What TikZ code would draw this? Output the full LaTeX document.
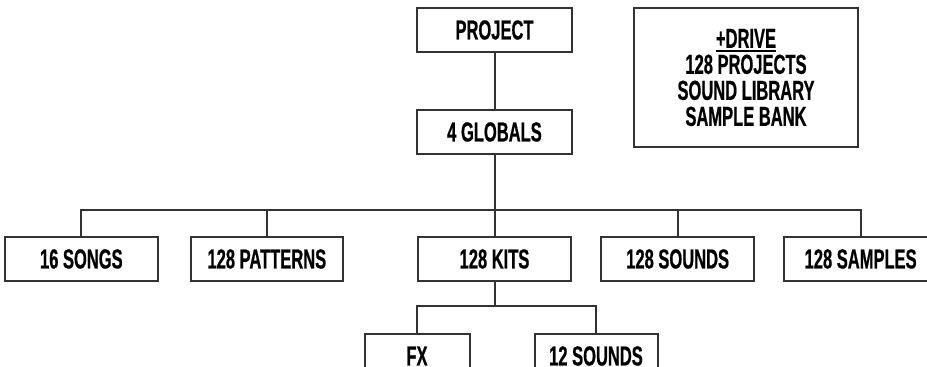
\documentclass[tikz,border=0pt]{standalone}
\usepackage{fontspec}
\setmainfont{Liberation Sans}[FakeStretch=0.6, BoldFeatures={FakeBold=0.6}]
\usepackage{tikz}
\usetikzlibrary{positioning, calc}
\definecolor{edge}{HTML}{333333}
\newcommand{\thickul}[1]{\leavevmode\vtop{\hbox{#1}\kern1.6pt\hrule height 1.7pt}}

\begin{document}
\begin{tikzpicture}[
        box/.style={draw=edge, line width=1.7pt, minimum width=4.6cm, minimum height=1.32cm,
            inner sep=2pt, font=\fontsize{23.5}{22.2}\selectfont\bfseries},
        link/.style={draw=edge, line width=1.7pt}
    ]
        \clip (0,0) rectangle (27.81,-11.01);
        % Nodes
        \node[box, minimum width=4.65cm] (project) at (14.835,-0.9) {PROJECT};
        \node[box, minimum width=4.65cm, below=1.68cm of project] (globals) {4 GLOBALS};
        \node[box, minimum width=6.72cm, minimum height=4.17cm, align=center,
            right=1.8cm of project.north east, anchor=north west] (drive)
            {\thickul{+DRIVE}\\128 PROJECTS\\SOUND LIBRARY\\SAMPLE BANK};
        \node[box, below=2.43cm of globals] (kits) {128 KITS};
        \node[box, minimum width=4.56cm, left=2.19cm of kits] (patterns) {128 PATTERNS};
        \node[box, minimum width=4.59cm, left=0.93cm of patterns] (songs) {16 SONGS};
        \node[box, minimum width=4.59cm, right=0.84cm of kits] (sounds) {128 SOUNDS};
        \node[box, minimum width=4.59cm, right=0.84cm of sounds] (samples) {128 SAMPLES};
        \node[box, minimum width=3.15cm, below=1.53cm of kits.south, xshift=-2.325cm, anchor=north] (fx) {FX};
        \node[box, minimum width=3.69cm, below=1.53cm of kits.south, xshift=3.045cm, anchor=north] (kitsounds) {12 SOUNDS};

        % Lines
        \draw[link] (project) -- (globals);
        \draw[link] (globals) -- (kits);
        \coordinate (bus) at ($(kits.north)+(0,0.78)$);
        \draw[link] (songs.north) |- (bus) -| (samples.north);
        \draw[link] (patterns.north) -- (patterns.north |- bus);
        \draw[link] (sounds.north) -- (sounds.north |- bus);
        \coordinate (kitbus) at ($(kits.south)+(0,-0.72)$);
        \draw[link] (kits.south) -- (kitbus);
        \draw[link] (fx.north) |- (kitbus) -| (kitsounds.north);
    \end{tikzpicture}
\end{document}
